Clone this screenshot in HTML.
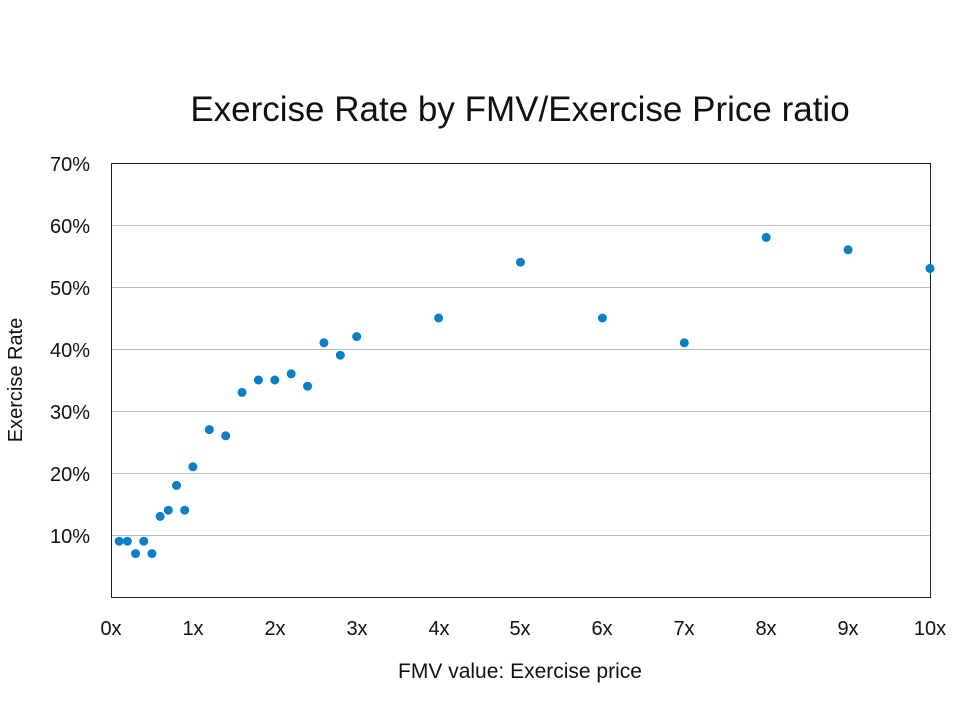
<!DOCTYPE html>
<html><head><meta charset="utf-8"><style>body{margin:0;background:#fff}</style></head><body>
<svg width="959" height="697" xmlns="http://www.w3.org/2000/svg" font-family="Liberation Sans, sans-serif">
<rect width="959" height="697" fill="#fff"/>
<text x="520" y="121" font-size="35" text-anchor="middle" fill="#111">Exercise Rate by FMV/Exercise Price ratio</text>
<g stroke="#bbb" stroke-width="1">
<line x1="111" x2="930" y1="225.5" y2="225.5"/><line x1="111" x2="930" y1="287.5" y2="287.5"/>
<line x1="111" x2="930" y1="349.5" y2="349.5"/><line x1="111" x2="930" y1="411.5" y2="411.5"/>
<line x1="111" x2="930" y1="473.5" y2="473.5"/><line x1="111" x2="930" y1="535.5" y2="535.5"/>
</g>
<rect x="111.5" y="163.5" width="819" height="434" fill="none" stroke="#222" stroke-width="1"/>
<g font-size="20" fill="#111" text-anchor="end">
<text x="90" y="171">70%</text><text x="90" y="233">60%</text><text x="90" y="295">50%</text>
<text x="90" y="357">40%</text><text x="90" y="419">30%</text><text x="90" y="481">20%</text><text x="90" y="543">10%</text>
</g>
<g font-size="20" fill="#111" text-anchor="middle">
<text x="111" y="635">0x</text><text x="193" y="635">1x</text><text x="275" y="635">2x</text><text x="357" y="635">3x</text>
<text x="439" y="635">4x</text><text x="520" y="635">5x</text><text x="602" y="635">6x</text><text x="684" y="635">7x</text>
<text x="766" y="635">8x</text><text x="848" y="635">9x</text><text x="930" y="635">10x</text>
</g>
<text x="520" y="678" font-size="21" text-anchor="middle" fill="#111">FMV value: Exercise price</text>
<text transform="translate(22,380) rotate(-90)" font-size="20" text-anchor="middle" fill="#111">Exercise Rate</text>
<g fill="#0a7fc7" id="pts"></g>
</svg>
<script>
var d=[[0.1,9],[0.2,9],[0.3,7],[0.4,9],[0.5,7],[0.6,13],[0.7,14],[0.8,18],[0.9,14],[1,21],[1.2,27],[1.4,26],[1.6,33],[1.8,35],[2,35],[2.2,36],[2.4,34],[2.6,41],[2.8,39],[3,42],[4,45],[5,54],[6,45],[7,41],[8,58],[9,56],[10,53]];
var g=document.getElementById('pts'),s='';
d.forEach(function(p){s+='<circle cx="'+(111+p[0]*81.9)+'" cy="'+(597-p[1]*6.2)+'" r="4.5"/>';});
g.innerHTML=s;
</script>
</body></html>
